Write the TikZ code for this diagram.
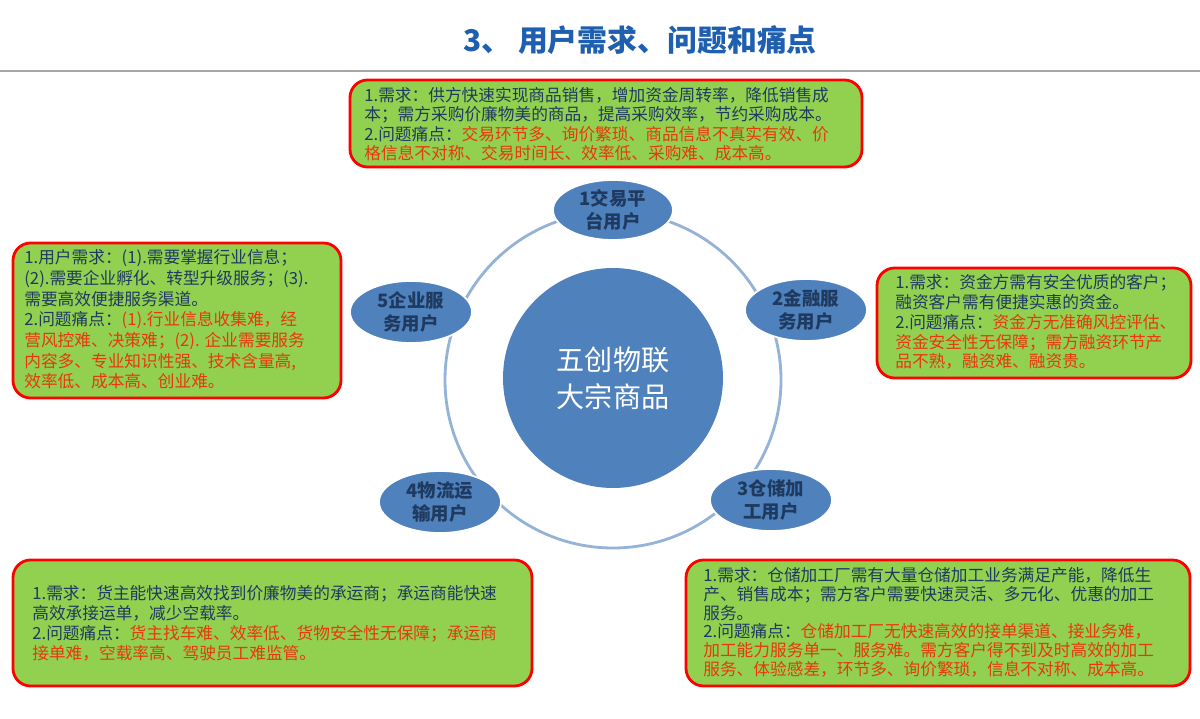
\documentclass[tikz,border=0pt]{standalone}
\usepackage{fontspec}
\setmainfont{Noto Sans CJK SC}
\usetikzlibrary{shapes.geometric}
\definecolor{navy}{HTML}{1F3A60}
\definecolor{pr}{HTML}{E8380D}
\definecolor{gr}{HTML}{92D050}
\definecolor{bl}{HTML}{4F81BD}
\definecolor{tb}{HTML}{1F5FAF}
\tikzset{
 infobox/.style={draw=red, line width=1.6pt, fill=gr, rounded corners=10pt},
 boxtext/.style={anchor=north west, align=left, text=navy, inner sep=0pt},
 user/.style={ellipse, fill=bl, draw=white, line width=1pt, text=navy, font=\fontsize{10.5}{13}\selectfont\bfseries, align=center, inner sep=0pt},
}
\begin{document}
\begin{tikzpicture}[x=0.02cm,y=-0.02cm]
\useasboundingbox (0,0) rectangle (1200,719);
\fill[white] (0,0) rectangle (1200,719);
\node[font=\fontsize{17}{20}\selectfont\bfseries, text=tb] (title) at (640,40) {3、\ 用户需求、问题和痛点};
\draw[gray!70, line width=1.5pt] (0,71) -- (1200,71);
\node[circle, draw=bl!60, line width=1.6pt, fill=white, minimum size=336*0.02cm] (ring) at (613,380) {};
\node[circle, fill=bl, minimum size=220*0.02cm, text=white, font=\fontsize{16}{21}\selectfont, align=center] (core) at (613,378) {五创物联\\大宗商品};
\node[user, minimum width=120*0.02cm, minimum height=60*0.02cm] (u1) at (613,210) {1交易平\\台用户};
\node[user, minimum width=122*0.02cm, minimum height=62*0.02cm] (u2) at (806,310) {2金融服\\务用户};
\node[user, minimum width=122*0.02cm, minimum height=62*0.02cm] (u3) at (771,500) {3仓储加\\工用户};
\node[user, minimum width=122*0.02cm, minimum height=62*0.02cm] (u4) at (440,502) {4物流运\\输用户};
\node[user, minimum width=122*0.02cm, minimum height=62*0.02cm] (u5) at (411,312) {5企业服\\务用户};
\draw[infobox] (350,80) rectangle (862,167);
\node[boxtext, font=\fontsize{9.5}{11}\selectfont] (t1) at (364,87) {1.需求：供方快速实现商品销售，增加资金周转率，降低销售成\\本；需方采购价廉物美的商品，提高采购效率，节约采购成本。\\2.问题痛点：\textcolor{pr}{交易环节多、询价繁琐、商品信息不真实有效、价}\\\textcolor{pr}{格信息不对称、交易时间长、效率低、采购难、成本高。}};
\draw[infobox] (13,243) rectangle (341,398);
\node[boxtext, font=\fontsize{9.5}{11.8}\selectfont] (t5) at (24,249) {1.用户需求：(1).需要掌握行业信息；\\(2).需要企业孵化、转型升级服务；(3).\\需要高效便捷服务渠道。\\2.问题痛点：\textcolor{pr}{(1).行业信息收集难，经}\\\textcolor{pr}{营风控难、决策难；(2). 企业需要服务}\\\textcolor{pr}{内容多、专业知识性强、技术含量高,}\\\textcolor{pr}{效率低、成本高、创业难。}};
\draw[infobox] (877,268) rectangle (1191,378);
\node[boxtext, font=\fontsize{9.5}{11.3}\selectfont] (t2) at (895,274) {1.需求：资金方需有安全优质的客户；\\融资客户需有便捷实惠的资金。\\2.问题痛点：\textcolor{pr}{资金方无准确风控评估、}\\\textcolor{pr}{资金安全性无保障；需方融资环节产}\\\textcolor{pr}{品不熟，融资难、融资贵。}};
\draw[infobox] (13,560) rectangle (532,686);
\node[boxtext, font=\fontsize{9.5}{11.3}\selectfont] (t4) at (32,585) {1.需求：货主能快速高效找到价廉物美的承运商；承运商能快速\\高效承接运单，减少空载率。\\2.问题痛点：\textcolor{pr}{货主找车难、效率低、货物安全性无保障；承运商}\\\textcolor{pr}{接单难，空载率高、驾驶员工难监管。}};
\draw[infobox] (686,560) rectangle (1190,686);
\node[boxtext, font=\fontsize{9.5}{10.7}\selectfont] (t3) at (703,567) {1.需求：仓储加工厂需有大量仓储加工业务满足产能，降低生\\产、销售成本；需方客户需要快速灵活、多元化、优惠的加工\\服务。\\2.问题痛点：\textcolor{pr}{仓储加工厂无快速高效的接单渠道、接业务难，}\\\textcolor{pr}{加工能力服务单一、服务难。需方客户得不到及时高效的加工}\\\textcolor{pr}{服务、体验感差，环节多、询价繁琐，信息不对称、成本高。}};
\end{tikzpicture}
\end{document}
